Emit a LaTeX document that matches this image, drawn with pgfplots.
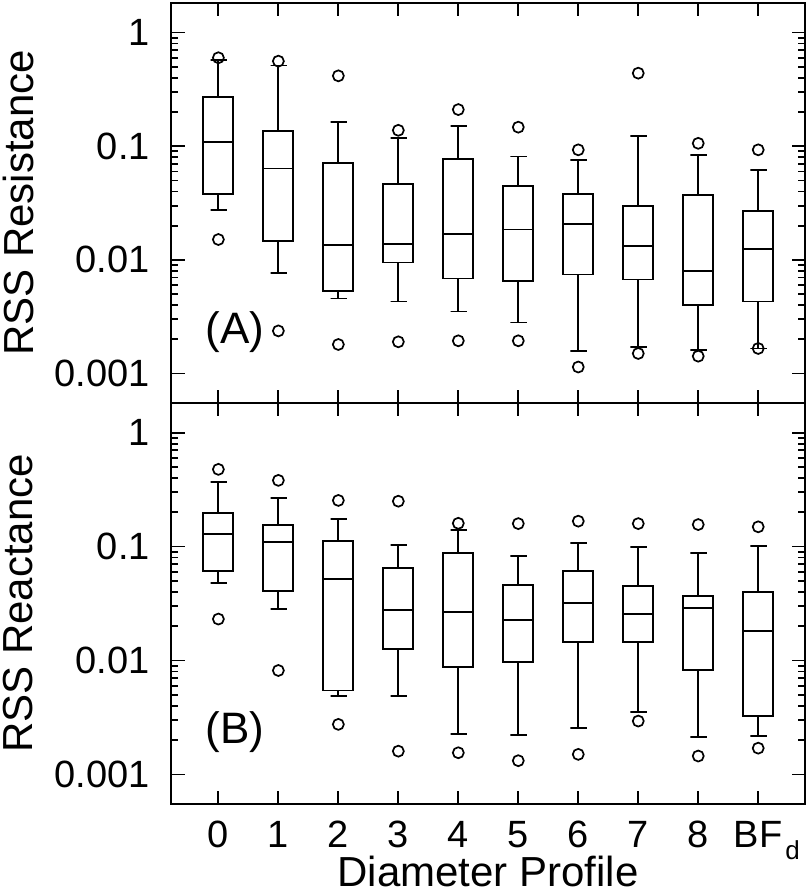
\documentclass[border=0pt]{standalone}
\usepackage{fontspec}
\setmainfont{Liberation Sans}
\usepackage{pgfplots}
\pgfplotsset{compat=1.18}

\pgfplotsset{
  mypanel/.style={
    scale only axis, width=634pt,
    xmin=-0.79, xmax=9.78,
    ymin=5.5e-4, ymax=1.82,
    xtick={0,1,2,3,4,5,6,7,8,9},
    ytick={0.001,0.01,0.1,1},
    yticklabels={0.001,0.01,0.1,1},
    minor ytick={0.002,0.003,0.004,0.005,0.006,0.007,0.008,0.009,
                 0.02,0.03,0.04,0.05,0.06,0.07,0.08,0.09,
                 0.2,0.3,0.4,0.5,0.6,0.7,0.8,0.9},
    tick align=inside, xtick pos=both, ytick pos=both,
    major tick length=13.5pt, minor tick length=7pt,
    every tick/.style={black, line width=1.8pt},
    axis line style={line width=2.2pt},
    tick label style={font=\fontsize{38}{40}\selectfont},
    yticklabel style={anchor=east, inner sep=0pt, xshift=-21pt},
    xticklabel style={anchor=base, inner sep=0pt, yshift=-43pt},
    every axis y label/.style={at={([xshift=-168pt]rel axis cs:0,0.5)}, rotate=90, anchor=north, inner sep=0pt,
      font=\fontsize{42}{44}\selectfont},
    every axis x label/.style={at={([yshift=-82pt]rel axis cs:0.5,0)}, anchor=base, inner sep=0pt,
      font=\fontsize{42}{44}\selectfont},
  },
  boxline/.style={black, line width=1.9pt, line cap=rect, mark=none},
  outl/.style={black, only marks, mark=o, mark size=5.5pt, mark options={line width=1.7pt}},
}

% #1 position, #2 lower whisker, #3 lower quartile, #4 median, #5 upper quartile, #6 upper whisker, #7 #8 outliers
\newcommand{\bx}[8]{%
  \pgfmathsetmacro\bxL{#1-0.25}%
  \pgfmathsetmacro\bxR{#1+0.25}%
  \pgfmathsetmacro\bxCL{#1-0.13}%
  \pgfmathsetmacro\bxCR{#1+0.13}%
  \edef\bxdo{%
    \noexpand\addplot[boxline] coordinates {(\bxL,#3) (\bxR,#3) (\bxR,#5) (\bxL,#5) (\bxL,#3)};
    \noexpand\addplot[boxline] coordinates {(\bxL,#4) (\bxR,#4)};
    \noexpand\addplot[boxline] coordinates {(#1,#5) (#1,#6) (\bxCL,#6) (\bxCR,#6)};
    \noexpand\addplot[boxline] coordinates {(#1,#3) (#1,#2) (\bxCL,#2) (\bxCR,#2)};
    \noexpand\addplot[outl] coordinates {(#1,#7) (#1,#8)};
  }\bxdo}

\begin{document}
\begin{tikzpicture}
\useasboundingbox (0,0) rectangle (810pt,896pt);

% Panel A: RSS Resistance
\begin{semilogyaxis}[mypanel, height=400pt, at={(171pt,493pt)}, anchor=south west,
  xticklabels={}, ylabel={RSS Resistance}]
\bx{0}{0.0277}{0.0378}{0.109}{0.273}{0.571}{0.0151}{0.60}
\bx{1}{0.00769}{0.0146}{0.0636}{0.137}{0.513}{0.00237}{0.56}
\bx{2}{0.00457}{0.00534}{0.01355}{0.0713}{0.164}{0.0018}{0.416}
\bx{3}{0.0043}{0.00947}{0.01383}{0.0463}{0.118}{0.0019}{0.138}
\bx{4}{0.00351}{0.00685}{0.0169}{0.0774}{0.151}{0.00194}{0.21}
\bx{5}{0.00281}{0.00649}{0.0185}{0.0445}{0.0811}{0.00194}{0.147}
\bx{6}{0.00157}{0.00743}{0.0206}{0.0378}{0.0753}{0.00114}{0.0929}
\bx{7}{0.00172}{0.00671}{0.0132}{0.0295}{0.123}{0.0015}{0.439}
\bx{8}{0.00162}{0.00402}{0.00795}{0.037}{0.0833}{0.00142}{0.106}
\bx{9}{0.00166}{0.0043}{0.0125}{0.027}{0.0615}{0.00166}{0.0929}
\node[anchor=base west, inner sep=0pt, font=\fontsize{44}{44}\selectfont] at (axis cs:-0.22,0.00185) {(A)};
\end{semilogyaxis}

% Panel B: RSS Reactance
\begin{semilogyaxis}[mypanel, height=401pt, at={(171pt,92pt)}, anchor=south west,
  xticklabels={0,1,2,3,4,5,6,7,8,{BF\rlap{\hspace{3pt}\raisebox{-12pt}{\fontsize{26}{26}\selectfont d}}}},
  xlabel={Diameter Profile}, ylabel={RSS Reactance}]
\bx{0}{0.0482}{0.061}{0.129}{0.198}{0.366}{0.0231}{0.476}
\bx{1}{0.0283}{0.0405}{0.109}{0.154}{0.266}{0.00817}{0.381}
\bx{2}{0.00485}{0.00545}{0.0523}{0.111}{0.173}{0.00275}{0.254}
\bx{3}{0.00489}{0.0127}{0.0279}{0.0649}{0.1035}{0.0016}{0.25}
\bx{4}{0.00226}{0.00874}{0.0266}{0.0874}{0.14}{0.00155}{0.16}
\bx{5}{0.00222}{0.00966}{0.0226}{0.0463}{0.0833}{0.00132}{0.159}
\bx{6}{0.00256}{0.0145}{0.0322}{0.0607}{0.108}{0.0015}{0.167}
\bx{7}{0.00356}{0.0145}{0.0254}{0.0451}{0.1}{0.00294}{0.159}
\bx{8}{0.00213}{0.00828}{0.0291}{0.0368}{0.0874}{0.00145}{0.156}
\bx{9}{0.00216}{0.00326}{0.018}{0.0397}{0.1007}{0.0017}{0.149}
\node[anchor=base west, inner sep=0pt, font=\fontsize{44}{44}\selectfont] at (axis cs:-0.22,0.00187) {(B)};
\end{semilogyaxis}
\end{tikzpicture}
\end{document}
